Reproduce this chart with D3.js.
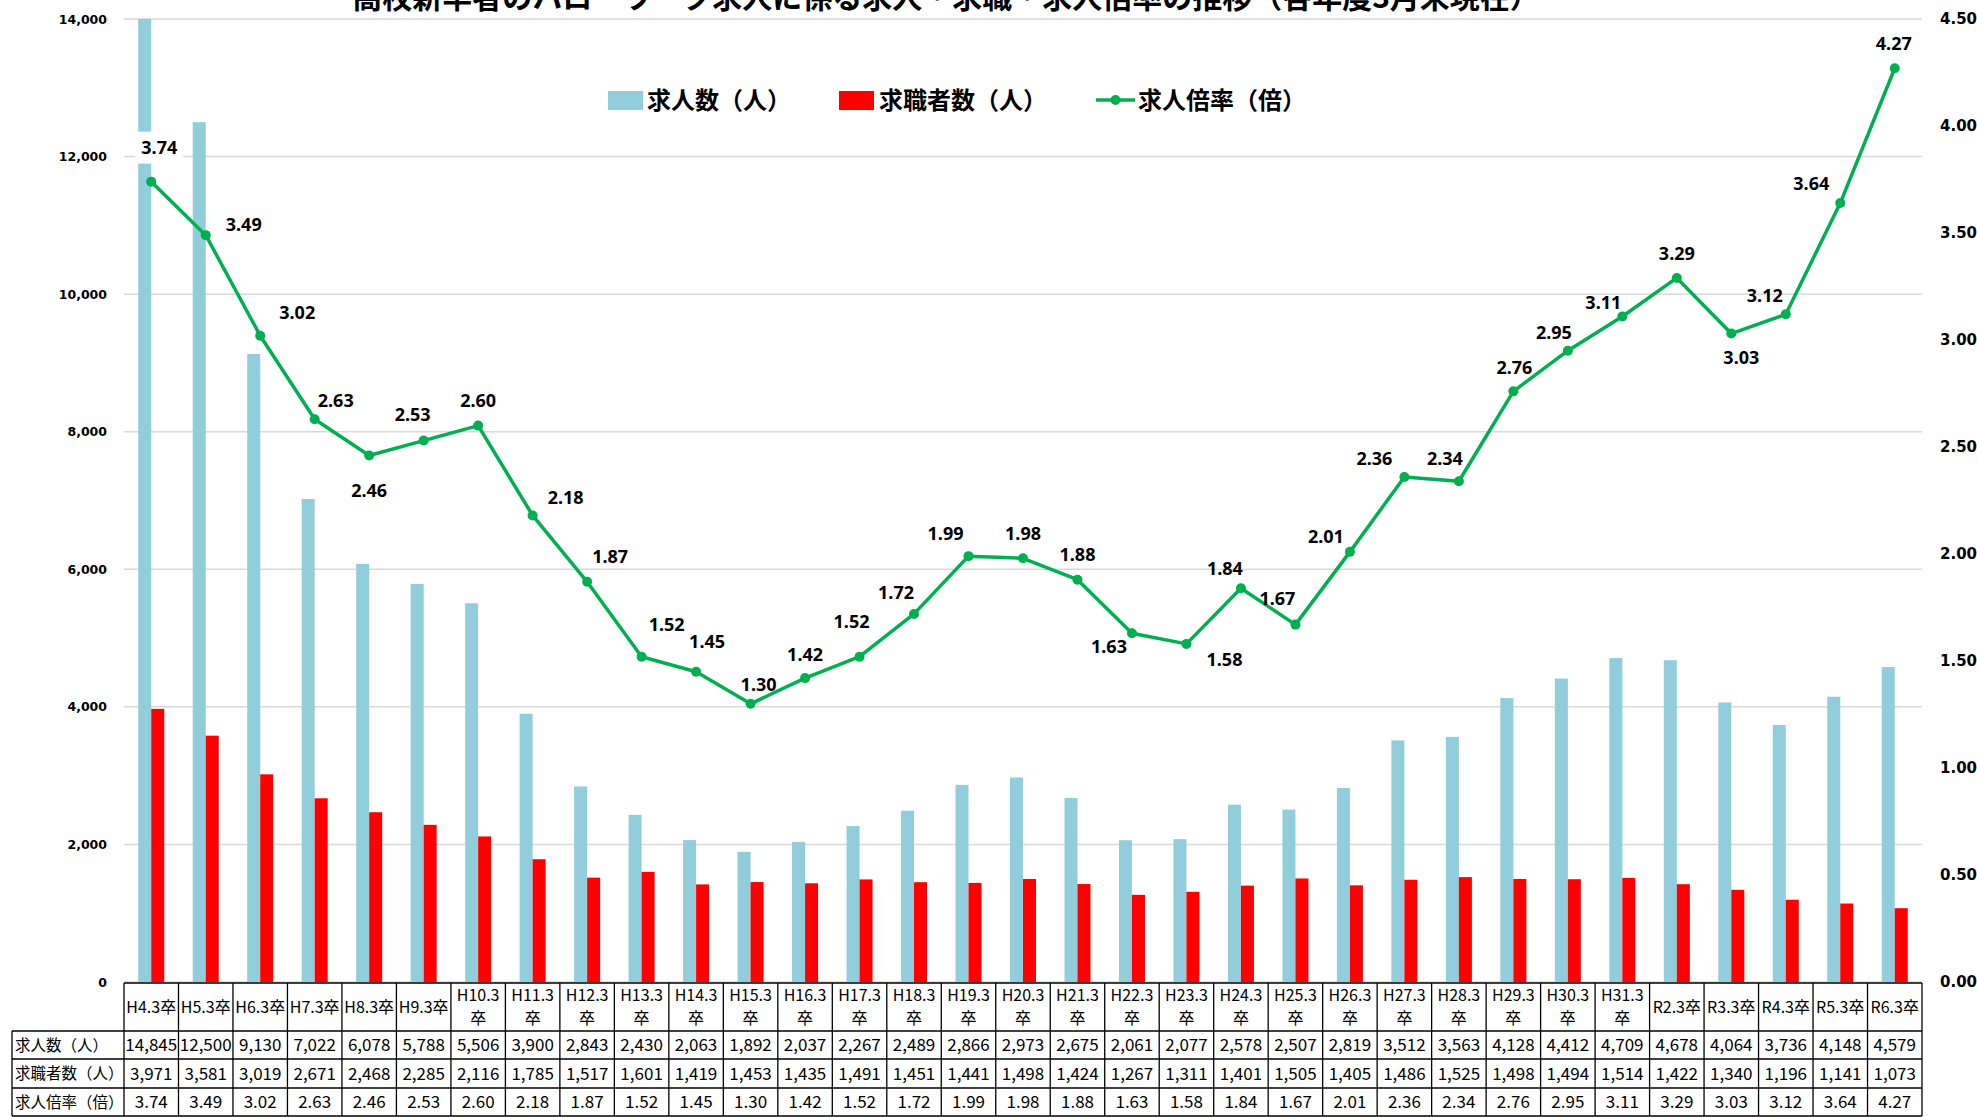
<!DOCTYPE html>
<html>
<head>
<meta charset="utf-8">
<script src="https://cdn.jsdelivr.net/npm/d3@7/dist/d3.min.js"></script>
<style>
  body { margin: 0; background: #fff; }
  svg { display: block; }
</style>
</head>
<body>
<script>
// categories (graduation year, March)
const categories = ["H4.3卒","H5.3卒","H6.3卒","H7.3卒","H8.3卒","H9.3卒","H10.3卒","H11.3卒","H12.3卒","H13.3卒",
  "H14.3卒","H15.3卒","H16.3卒","H17.3卒","H18.3卒","H19.3卒","H20.3卒","H21.3卒","H22.3卒","H23.3卒",
  "H24.3卒","H25.3卒","H26.3卒","H27.3卒","H28.3卒","H29.3卒","H30.3卒","H31.3卒","R2.3卒","R3.3卒",
  "R4.3卒","R5.3卒","R6.3卒"];
// 求人数（人）
const offers = [14845,12500,9130,7022,6078,5788,5506,3900,2843,2430,
  2063,1892,2037,2267,2489,2866,2973,2675,2061,2077,
  2578,2507,2819,3512,3563,4128,4412,4709,4678,4064,
  3736,4148,4579];
// 求職者数（人）
const seekers = [3971,3581,3019,2671,2468,2285,2116,1785,1517,1601,
  1419,1453,1435,1491,1451,1441,1498,1424,1267,1311,
  1401,1505,1405,1486,1525,1498,1494,1514,1422,1340,
  1196,1141,1073];
// 求人倍率（倍）
const ratio = [3.74,3.49,3.02,2.63,2.46,2.53,2.60,2.18,1.87,1.52,
  1.45,1.30,1.42,1.52,1.72,1.99,1.98,1.88,1.63,1.58,
  1.84,1.67,2.01,2.36,2.34,2.76,2.95,3.11,3.29,3.03,
  3.12,3.64,4.27];
const leftTicks = [0,2000,4000,6000,8000,10000,12000,14000];
const rightTicks = [0,0.5,1,1.5,2,2.5,3,3.5,4,4.5];
const seriesNames = ["求人数（人）","求職者数（人）","求人倍率（倍）"];
const title = "高校新卒者のハローワーク求人に係る求人・求職・求人倍率の推移（各年度3月末現在）";

// where each ratio label sits relative to its point (layout only)
const labelOffsets = [[8,-34],[38,-11],[37,-23],[21,-19],[0,35],[-11,-26],[0,-25],[33,-18],[23,-25],[25,-32],
  [11,-30],[8,-19],[0,-24],[-8,-35],[-18,-21],[-23,-23],[0,-25],[0,-25],[-23,13],[38,16],
  [-16,-20],[-18,-26],[-24,-15],[-30,-18],[-14,-23],[1,-24],[-14,-18],[-19,-14],[0,-24],[10,24],
  [-21,-19],[-29,-20],[-1,-25]];
// only the first label sits on a bar and gets a white box
const boxedLabels = [0];

const W = 1977, H = 1117;
const plotLeft = 124, plotRight = 1922, plotTop = 19, plotBottom = 982;
const blue = "#92CDDC", red = "#FF0000", green = "#00B050";

const svg = d3.select("body").append("svg").attr("width", W).attr("height", H);

const x = d3.scaleBand().domain(categories).range([plotLeft, plotRight]).padding(0);
const yL = d3.scaleLinear().domain([0, 14000]).range([plotBottom, plotTop]);
const yR = d3.scaleLinear().domain([0, 4.5]).range([plotBottom, plotTop]);

// title (cut off at the top edge like the original)
svg.append("text").attr("x", 946).attr("y", 8)
  .attr("text-anchor", "middle")
  .style("font-family", "'Noto Sans CJK JP'").style("font-weight", "bold").style("font-size", "30px")
  .text(title);

// gridlines
svg.append("g").selectAll("line").data(leftTicks).enter().append("line")
  .attr("x1", plotLeft).attr("x2", plotRight)
  .attr("y1", d => yL(d)).attr("y2", d => yL(d))
  .style("stroke", "#D9D9D9").style("stroke-width", 1.5);

// left axis labels
const gl = svg.append("g").attr("transform", "translate(" + (plotLeft - 10) + ",0)")
  .call(d3.axisLeft(yL).tickValues(leftTicks).tickFormat(d3.format(",")).tickSize(0).tickPadding(7));
gl.select(".domain").remove();
gl.selectAll("text").style("font-family", "'DejaVu Sans'").style("font-weight", "bold").style("font-size", "12.5px").attr("fill", "#000");

// right axis labels
const gr = svg.append("g").attr("transform", "translate(" + (plotRight + 12) + ",0)")
  .call(d3.axisRight(yR).tickValues(rightTicks).tickFormat(d3.format(".2f")).tickSize(0).tickPadding(6));
gr.select(".domain").remove();
gr.selectAll("text").style("font-family", "'DejaVu Sans'").style("font-weight", "bold").style("font-size", "15px").attr("fill", "#000");

// bars
svg.append("clipPath").attr("id", "plotclip").append("rect")
  .attr("x", plotLeft).attr("y", plotTop).attr("width", plotRight - plotLeft).attr("height", plotBottom - plotTop);
const barW = 13;
const bars = svg.append("g").attr("clip-path", "url(#plotclip)");
bars.selectAll("rect.offer").data(offers).enter().append("rect").attr("class", "offer")
  .attr("x", (d, i) => x(categories[i]) + x.bandwidth() / 2 - barW)
  .attr("y", d => yL(d)).attr("width", barW).attr("height", d => plotBottom - yL(d))
  .attr("fill", blue);
bars.selectAll("rect.seeker").data(seekers).enter().append("rect").attr("class", "seeker")
  .attr("x", (d, i) => x(categories[i]) + x.bandwidth() / 2)
  .attr("y", d => yL(d)).attr("width", barW).attr("height", d => plotBottom - yL(d))
  .attr("fill", red);

// ratio line
const cx = i => x(categories[i]) + x.bandwidth() / 2;
const line = d3.line().x((d, i) => cx(i)).y(d => yR(d));
svg.append("path").datum(ratio).attr("d", line)
  .attr("fill", "none").attr("stroke", green).attr("stroke-width", 3.5).attr("stroke-linejoin", "round");
svg.append("g").selectAll("circle").data(ratio).enter().append("circle")
  .attr("cx", (d, i) => cx(i)).attr("cy", d => yR(d)).attr("r", 5).attr("fill", green);

// ratio labels
const lab = svg.append("g").selectAll("g").data(ratio).enter().append("g")
  .attr("transform", (d, i) => "translate(" + (cx(i) + labelOffsets[i][0]) + "," + (yR(d) + labelOffsets[i][1]) + ")");
lab.filter((d, i) => boxedLabels.includes(i)).append("rect").attr("fill", "#fff");
lab.append("text").attr("text-anchor", "middle").attr("dy", "0.36em")
  .style("font-family", "'Noto Sans'").style("font-weight", "bold").style("font-size", "18px")
  .text(d => d3.format(".2f")(d));
lab.each(function() {
  const g = d3.select(this);
  const w = g.select("text").node().getComputedTextLength() + 12;
  g.select("rect").attr("x", -w / 2).attr("y", -16).attr("width", w).attr("height", 32);
});

// legend
const legend = svg.append("g").style("font-family", "'Noto Sans CJK JP'").style("font-weight", "bold").style("font-size", "24px");
legend.append("rect").attr("x", 608).attr("y", 91).attr("width", 35).attr("height", 19).attr("fill", blue);
legend.append("rect").attr("x", 839).attr("y", 91).attr("width", 35).attr("height", 19).attr("fill", red);
legend.append("line").attr("x1", 1096).attr("x2", 1135).attr("y1", 100).attr("y2", 100)
  .attr("stroke", green).attr("stroke-width", 3.5);
legend.append("circle").attr("cx", 1115.5).attr("cy", 100).attr("r", 5).attr("fill", green);
legend.selectAll("text").data(seriesNames).enter().append("text")
  .attr("x", (d, i) => [647, 879, 1138][i]).attr("y", 100).attr("dy", "0.36em")
  .text(d => d);

// data table
const rowsY = [983, 1031, 1059, 1088, 1116];
const tableLeft = 12;
const tbl = svg.append("g").style("font-family", "'Noto Sans CJK JP'").attr("fill", "#000");
const edges = categories.map(c => x(c)).concat([plotRight]);
tbl.selectAll("line.v").data(edges).enter().append("line")
  .attr("x1", d => d).attr("x2", d => d).attr("y1", rowsY[0]).attr("y2", rowsY[4])
  .attr("stroke", "#000").attr("stroke-width", 1.3);
tbl.append("line").attr("x1", tableLeft).attr("x2", tableLeft).attr("y1", rowsY[1]).attr("y2", rowsY[4])
  .attr("stroke", "#000").attr("stroke-width", 1.3);
rowsY.forEach((yy, k) => {
  tbl.append("line").attr("x1", k === 0 ? plotLeft : tableLeft).attr("x2", plotRight)
    .attr("y1", yy).attr("y2", yy).attr("stroke", "#000").attr("stroke-width", 1.3);
});
// header cells
categories.forEach((c, i) => {
  const t = tbl.append("text").attr("text-anchor", "middle").style("font-size", "16px");
  if (c.length > 5) {
    t.append("tspan").attr("x", cx(i)).attr("y", 1001).text(c.slice(0, -1));
    t.append("tspan").attr("x", cx(i)).attr("y", 1024).text(c.slice(-1));
  } else {
    t.attr("x", cx(i)).attr("y", 1013).text(c);
  }
});
// row heads and values
const rows = [offers.map(d3.format(",")), seekers.map(d3.format(",")), ratio.map(d3.format(".2f"))];
rows.forEach((vals, r) => {
  const ym = (rowsY[r + 1] + rowsY[r + 2]) / 2;
  tbl.append("text").attr("x", tableLeft + 3).attr("y", ym).attr("dy", "0.36em")
    .style("font-size", "15.5px").text(seriesNames[r]);
  tbl.selectAll(null).data(vals).enter().append("text")
    .attr("x", (d, i) => cx(i)).attr("y", ym).attr("dy", "0.36em")
    .attr("text-anchor", "middle").style("font-size", "17px")
    .text(d => d);
});
</script>
</body>
</html>
